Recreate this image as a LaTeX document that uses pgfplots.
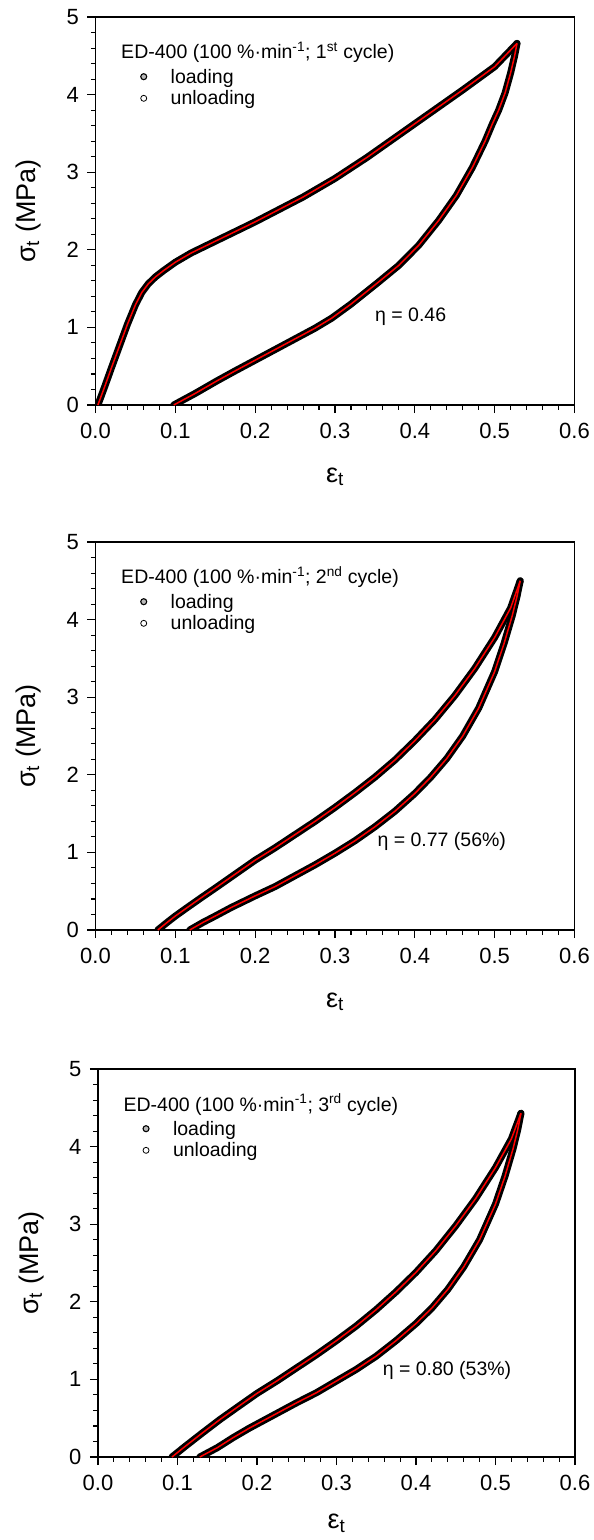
\documentclass[border=0pt]{standalone}
\usepackage{fontspec}
\setmainfont{Liberation Sans}
\usepackage{pgfplots}
\pgfplotsset{compat=1.18}
\usepackage{pgfplotstable}

% ---------- panel 1 (1st cycle) ----------
\pgfplotstableread{
x y
0.003 0.00
0.012 0.25
0.020 0.48
0.030 0.76
0.040 1.04
0.050 1.29
0.058 1.45
0.066 1.56
0.075 1.65
0.085 1.73
0.100 1.84
0.120 1.96
0.140 2.06
0.160 2.16
0.180 2.26
0.200 2.36
0.230 2.52
0.260 2.68
0.300 2.92
0.340 3.19
0.380 3.48
0.420 3.77
0.460 4.06
0.500 4.36
0.528 4.66
}\loadA
\pgfplotstableread{
x y
0.528 4.66
0.525 4.50
0.520 4.28
0.513 4.02
0.505 3.80
0.497 3.62
0.488 3.40
0.472 3.06
0.452 2.70
0.430 2.38
0.405 2.06
0.380 1.80
0.354 1.58
0.320 1.30
0.296 1.12
0.275 0.99
0.255 0.88
0.235 0.77
0.215 0.66
0.195 0.55
0.175 0.44
0.152 0.31
0.125 0.15
0.098 0.00
}\unloadA
% ---------- panel 2 (2nd cycle) ----------
\pgfplotstableread{
x y
0.078 0.00
0.090 0.10
0.100 0.18
0.115 0.29
0.133 0.42
0.150 0.54
0.175 0.72
0.200 0.90
0.225 1.06
0.250 1.23
0.275 1.40
0.300 1.58
0.325 1.77
0.350 1.97
0.375 2.19
0.400 2.44
0.425 2.71
0.450 3.02
0.475 3.37
0.500 3.77
0.520 4.15
0.532 4.50
}\loadB
\pgfplotstableread{
x y
0.532 4.50
0.528 4.30
0.522 4.05
0.512 3.70
0.500 3.33
0.480 2.86
0.460 2.50
0.440 2.21
0.420 1.97
0.400 1.76
0.375 1.53
0.350 1.33
0.325 1.15
0.300 0.99
0.275 0.84
0.250 0.70
0.225 0.56
0.200 0.44
0.190 0.39
0.170 0.29
0.150 0.18
0.135 0.10
0.118 0.00
}\unloadB
% ---------- panel 3 (3rd cycle) ----------
\pgfplotstableread{
x y
0.093 0.00
0.110 0.14
0.130 0.30
0.153 0.48
0.175 0.64
0.200 0.82
0.225 0.98
0.250 1.15
0.275 1.32
0.300 1.50
0.325 1.69
0.350 1.90
0.375 2.13
0.400 2.38
0.425 2.66
0.450 2.98
0.475 3.33
0.500 3.73
0.520 4.10
0.532 4.43
}\loadC
\pgfplotstableread{
x y
0.532 4.43
0.528 4.22
0.522 3.97
0.512 3.62
0.500 3.26
0.480 2.80
0.460 2.45
0.440 2.16
0.420 1.92
0.400 1.72
0.375 1.50
0.350 1.30
0.325 1.13
0.300 0.98
0.275 0.83
0.250 0.70
0.230 0.59
0.210 0.48
0.190 0.37
0.170 0.25
0.150 0.12
0.128 0.00
}\unloadC

\pgfplotsset{
  panel/.style={
    scale only axis, width=479pt, height=388pt,
    xmin=0, xmax=0.6, ymin=0, ymax=5,
    xtick={0,0.1,0.2,0.3,0.4,0.5,0.6}, ytick={0,1,2,3,4,5},
    minor x tick num=4, minor y tick num=4,
    tick align=outside, tick pos=left,
    major tick length=8pt, minor tick length=4.5pt,
    axis line style={line width=1.2pt},
    every tick/.style={black, line width=1.1pt},
    /pgf/number format/assume math mode=true,
    xticklabel style={font=\fontsize{22}{26}\selectfont, yshift=-7pt,
      /pgf/number format/fixed, /pgf/number format/fixed zerofill,
      /pgf/number format/precision=1},
    yticklabel style={font=\fontsize{22}{26}\selectfont, xshift=-5pt},
    xlabel={ε\textsubscript{t}},
    ylabel={σ\textsubscript{t} (MPa)},
    every axis x label/.style={at={(axis description cs:0.5,-0.185)}, anchor=center,
      font=\fontsize{27}{30}\selectfont},
    every axis y label/.style={at={(axis description cs:-0.14,0.5)}, anchor=center,
      rotate=90, font=\fontsize{27}{30}\selectfont},
    legend style={at={(axis cs:0.0564,4.36)}, anchor=north west, draw=none, fill=none,
      inner sep=0pt, font=\fontsize{19.5}{22}\selectfont, row sep=2pt,
      /tikz/every odd column/.append style={column sep=22pt}},
    legend cell align=left,
  },
  band/.style={black, line width=7pt, line cap=round, line join=round, forget plot},
  fit/.style={red, line width=1.5pt, line join=round, forget plot},
}
\newcommand{\legimgs}{%
  \addlegendimage{only marks, mark=*, mark size=3pt, mark options={draw=black, fill=gray!55, line width=1.1pt}}
  \addlegendentry{loading}
  \addlegendimage{only marks, mark=o, mark size=3pt, mark options={draw=black, line width=0.8pt}}
  \addlegendentry{unloading}
}
\newcommand{\ttl}{\fontsize{19.5}{22}\selectfont}

\begin{document}
\begin{tikzpicture}
\useasboundingbox (0,0) rectangle (594pt,-1540pt);

\begin{axis}[panel, at={(95.5pt,-405pt)}, anchor=south west]
  \addplot[band] table {\loadA};
  \addplot[band] table {\unloadA};
  \addplot[fit] table {\loadA};
  \addplot[fit] table {\unloadA};
  \legimgs
  \node[anchor=base west, font=\ttl, inner sep=0pt] at (axis cs:0.032,4.459)
    {ED-400 (100 \%·min\textsuperscript{-1}; 1\textsuperscript{st} cycle)};
  \node[anchor=base west, font=\ttl, inner sep=0pt] at (axis cs:0.350,1.07) {η = 0.46};
\end{axis}

\begin{axis}[panel, at={(95.5pt,-930pt)}, anchor=south west]
  \addplot[band] table {\loadB};
  \addplot[band] table {\unloadB};
  \addplot[fit] table {\loadB};
  \addplot[fit] table {\unloadB};
  \legimgs
  \node[anchor=base west, font=\ttl, inner sep=0pt] at (axis cs:0.032,4.459)
    {ED-400 (100 \%·min\textsuperscript{-1}; 2\textsuperscript{nd} cycle)};
  \node[anchor=base west, font=\ttl, inner sep=0pt] at (axis cs:0.353,1.07) {η = 0.77 (56\%)};
\end{axis}

\begin{axis}[panel, width=477pt, at={(98pt,-1457pt)}, anchor=south west,
  every axis x label/.append style={at={(axis description cs:0.5,-0.17)}}]
  \addplot[band] table {\loadC};
  \addplot[band] table {\unloadC};
  \addplot[fit] table {\loadC};
  \addplot[fit] table {\unloadC};
  \legimgs
  \node[anchor=base west, font=\ttl, inner sep=0pt] at (axis cs:0.032,4.459)
    {ED-400 (100 \%·min\textsuperscript{-1}; 3\textsuperscript{rd} cycle)};
  \node[anchor=base west, font=\ttl, inner sep=0pt] at (axis cs:0.358,1.05) {η = 0.80 (53\%)};
\end{axis}
\end{tikzpicture}
\end{document}
